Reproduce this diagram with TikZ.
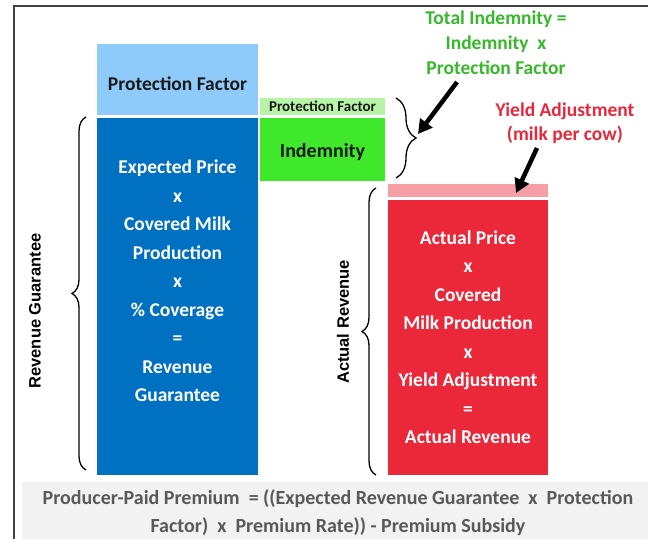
\documentclass[tikz,border=0pt]{standalone}
\usepackage{fontspec}
\setmainfont{Carlito}
\newfontfamily\arialfont{Liberation Sans}
\usetikzlibrary{arrows.meta,decorations.pathreplacing}
\definecolor{pfblue}{HTML}{8FCBFA}
\definecolor{mainblue}{HTML}{0070C0}
\definecolor{pfgreen}{HTML}{B7F4A8}
\definecolor{indgreen}{HTML}{40E82C}
\definecolor{pinkstrip}{HTML}{F4A0A6}
\definecolor{mainred}{HTML}{EA2839}
\definecolor{bandgray}{HTML}{F2F2F2}
\definecolor{titlegreen}{HTML}{36B82A}
\definecolor{titlered}{HTML}{E8283A}
\definecolor{bandtext}{HTML}{595959}
\definecolor{framegray}{HTML}{404040}
\begin{document}
\begin{tikzpicture}[x=1pt,y=-1pt,
  box/.style={rectangle,inner sep=0pt,anchor=north west,draw=none},
  boxtext/.style={font=\bfseries\fontsize{19.5}{28.5}\selectfont,align=center,text=white,inner sep=0pt},
  darktext/.style={font=\bfseries\fontsize{19.5}{24}\selectfont,align=center,text=black!90,inner sep=0pt},
  sidelabel/.style={font=\arialfont\bfseries\fontsize{16.5}{20}\selectfont,rotate=90,inner sep=0pt,text=black},
  bracestyle/.style={decorate,decoration={brace,amplitude=#1},line width=1.3pt,black},
  bigarrow/.style={-{Triangle[length=14pt,width=15pt]},line width=4.5pt,black}]
\useasboundingbox[fill=white] (0,0) rectangle (648,539);
% frame
\draw[framegray,line width=1.4pt] (14,539) -- (14,6) -- (648,6);
% boxes
\node[box,fill=pfblue,minimum width=161pt,minimum height=71pt] (pfbox) at (97,44) {};
\node[box,fill=mainblue,minimum width=161pt,minimum height=357pt] (bluebox) at (97,118) {};
\node[box,fill=pfgreen,minimum width=125pt,minimum height=17pt] (pfsmall) at (260,98) {};
\node[box,fill=indgreen,minimum width=125pt,minimum height=63pt] (indbox) at (260,118) {};
\node[box,fill=pinkstrip,minimum width=160pt,minimum height=13pt] (pinkbox) at (388,184) {};
\node[box,fill=mainred,minimum width=160pt,minimum height=275pt] (redbox) at (388,200) {};
\node[box,fill=bandgray,minimum width=626pt,minimum height=57pt] (band) at (22,482) {};
% texts in boxes
\node[darktext] (pftext) at (177.5,84) {Protection Factor};
\node[darktext,font=\bfseries\fontsize{15}{18}\selectfont] (pfsmalltext) at (322.5,106.5) {Protection Factor};
\node[darktext,font=\bfseries\fontsize{20}{24}\selectfont] (indtext) at (322.5,152) {Indemnity};
\node[boxtext] (bluetext) at (177.5,281) {Expected Price\\x\\Covered Milk\\Production\\x\\\% Coverage\\=\\Revenue\\Guarantee};
\node[boxtext] (redtext) at (468,337) {Actual Price\\x\\Covered\\Milk Production\\x\\Yield Adjustment\\=\\Actual Revenue};
\node[font=\bfseries\fontsize{20}{28}\selectfont,text=bandtext,align=center,inner sep=0pt] (bandtext) at (338,513) {Producer-Paid Premium~ = ((Expected Revenue Guarantee~ x~ Protection\\Factor)~ x~ Premium Rate)) - Premium Subsidy};
% titles
\node[font=\bfseries\fontsize{19.5}{25}\selectfont,text=titlegreen,align=center,inner sep=0pt] (greentitle) at (496,43) {Total Indemnity =\\Indemnity~ x\\Protection Factor};
\node[font=\bfseries\fontsize{19.5}{24.5}\selectfont,text=titlered,align=center,inner sep=0pt] (redtitle) at (565,123) {Yield Adjustment\\(milk per cow)};
% side labels
\node[sidelabel] (revlabel) at (35,311) {Revenue Guarantee};
\node[sidelabel] (actlabel) at (343,322) {Actual Revenue};
% braces
\coordinate (lbB) at (86,470);
\coordinate (lbT) at (86,117);
\coordinate (mbB) at (376,475);
\coordinate (mbT) at (376,188);
\coordinate (rbT) at (396,98);
\coordinate (rbB) at (396,178);
\draw[bracestyle=14pt] (lbB) -- (lbT);
\draw[bracestyle=14pt] (mbB) -- (mbT);
\draw[bracestyle=20pt] (rbT) -- (rbB);
% arrows
\coordinate (a1s) at (457,82);
\coordinate (a1e) at (418,134);
\coordinate (a2s) at (537,148);
\coordinate (a2e) at (516,193);
\draw[bigarrow] (a1s) -- (a1e);
\draw[bigarrow] (a2s) -- (a2e);
\end{tikzpicture}
\end{document}
